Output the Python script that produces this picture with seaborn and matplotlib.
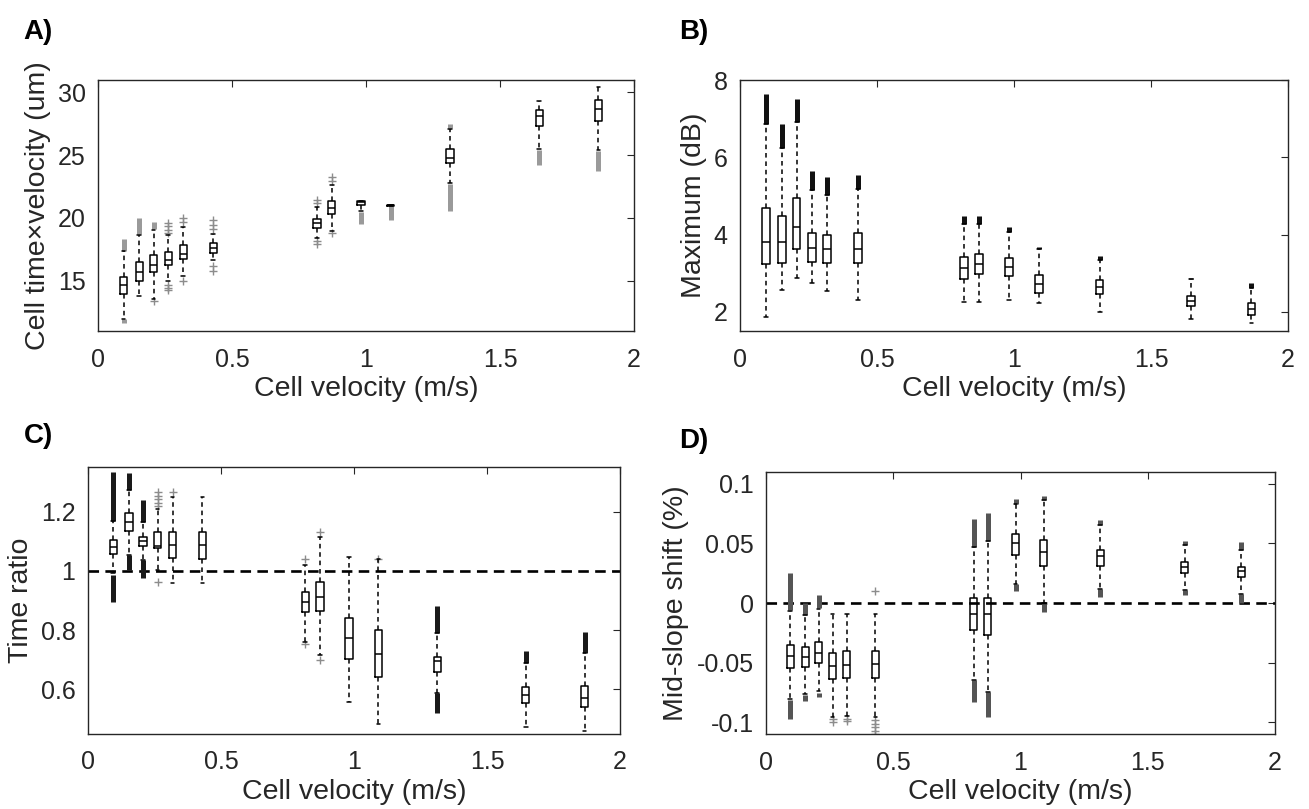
import matplotlib
matplotlib.use('Agg')
import numpy as np
import pandas as pd
import matplotlib.pyplot as plt
import seaborn as sns

# cell velocities (m/s), shared by all four panels
velocity = [0.095, 0.154, 0.207, 0.262, 0.318, 0.430, 0.817, 0.872, 0.981, 1.092, 1.313, 1.646, 1.867]

# A) cell time x velocity (um): whisker low, q1, median, q3, whisker high
a_lo  = [11.97, 13.77, 13.56, 15.02, 15.36, 16.64, 18.42, 18.94, 20.53, 20.94, 22.79, 25.52, 25.39]
a_q1  = [13.96, 14.96, 15.68, 16.27, 16.75, 17.22, 19.21, 20.35, 21.01, 20.97, 24.38, 27.35, 27.75]
a_med = [14.70, 15.71, 16.29, 16.69, 17.14, 17.57, 19.61, 20.83, 21.30, 21.00, 24.78, 28.09, 28.70]
a_q3  = [15.31, 16.51, 17.09, 17.27, 17.83, 17.99, 19.95, 21.33, 21.33, 21.00, 25.50, 28.57, 29.42]
a_hi  = [17.35, 18.68, 19.08, 18.62, 19.26, 18.70, 20.88, 22.60, 21.35, 21.00, 27.11, 29.36, 30.43]
# dense outlier runs (box index, from, to) and single outliers (box index, value)
a_runs = [(0, 17.40, 18.30), (0, 11.60, 11.95), (1, 18.70, 20.00), (2, 19.10, 19.65),
          (8, 19.55, 20.50), (9, 19.85, 20.92), (10, 20.55, 22.70), (10, 27.15, 27.50),
          (11, 24.25, 25.45), (12, 23.72, 25.30)]
a_pts = [(2, 13.40), (3, 19.61), (3, 19.34), (3, 19.08), (3, 18.81), (3, 14.70), (3, 14.44),
         (3, 14.25), (4, 20.00), (4, 19.69), (4, 15.02), (5, 19.82), (5, 19.48), (5, 19.13),
         (5, 16.16), (5, 15.76), (6, 21.46), (6, 21.20), (6, 18.15), (6, 17.94), (7, 23.27),
         (7, 22.92), (7, 18.81)]

# B) maximum (dB)
b_lo  = [1.87, 2.58, 2.89, 2.74, 2.55, 2.30, 2.26, 2.26, 2.30, 2.24, 2.00, 1.83, 1.72]
b_q1  = [3.24, 3.27, 3.63, 3.30, 3.27, 3.26, 2.86, 2.98, 2.93, 2.49, 2.46, 2.15, 1.93]
b_med = [3.82, 3.82, 4.19, 3.66, 3.63, 3.63, 3.14, 3.24, 3.17, 2.72, 2.65, 2.29, 2.08]
b_q3  = [4.69, 4.47, 4.96, 4.05, 3.99, 4.03, 3.43, 3.49, 3.40, 2.95, 2.82, 2.42, 2.22]
b_hi  = [6.85, 6.23, 6.92, 5.16, 5.03, 5.19, 4.28, 4.28, 4.08, 3.63, 3.34, 2.84, 2.61]
b_runs = [(0, 6.85, 7.63), (1, 6.23, 6.85), (2, 6.92, 7.50), (3, 5.16, 5.64), (4, 5.03, 5.49),
          (5, 5.19, 5.53), (6, 4.28, 4.47), (7, 4.28, 4.47), (8, 4.08, 4.21), (9, 3.63, 3.68),
          (10, 3.34, 3.45), (11, 2.84, 2.87), (12, 2.61, 2.74)]
b_pts = []

# C) time ratio
c_lo  = [0.992, 1.054, 1.037, 1.003, 0.958, 0.960, 0.761, 0.716, 0.556, 0.483, 0.586, 0.474, 0.458]
c_q1  = [1.056, 1.135, 1.084, 1.076, 1.045, 1.041, 0.862, 0.865, 0.701, 0.643, 0.659, 0.553, 0.539]
c_med = [1.080, 1.166, 1.101, 1.084, 1.088, 1.088, 0.895, 0.913, 0.774, 0.719, 0.694, 0.580, 0.570]
c_q3  = [1.104, 1.195, 1.116, 1.132, 1.132, 1.132, 0.929, 0.964, 0.840, 0.800, 0.710, 0.607, 0.612]
c_hi  = [1.169, 1.273, 1.166, 1.208, 1.251, 1.251, 1.020, 1.116, 1.046, 1.039, 0.789, 0.688, 0.722]
c_runs = [(0, 1.169, 1.335), (0, 0.896, 0.985), (1, 1.273, 1.332), (1, 1.003, 1.054),
          (2, 1.166, 1.240), (2, 0.975, 1.037), (10, 0.789, 0.882), (10, 0.519, 0.586),
          (11, 0.688, 0.730), (12, 0.722, 0.793)]
c_pts = [(3, 1.266), (3, 1.253), (3, 1.242), (3, 1.230), (3, 1.219), (3, 0.963), (4, 1.266),
         (6, 1.040), (6, 0.752), (7, 1.133), (7, 0.700), (9, 1.040)]

# D) mid-slope shift (%)
d_lo  = [-0.080, -0.076, -0.074, -0.0959, -0.0948, -0.0954, -0.0647, -0.0745, 0.0156, 0.0, 0.0115, 0.0106, 0.0079]
d_q1  = [-0.0541, -0.0536, -0.0502, -0.0639, -0.0628, -0.0625, -0.023, -0.027, 0.0405, 0.0307, 0.0313, 0.0251, 0.0218]
d_med = [-0.0443, -0.0452, -0.0418, -0.0527, -0.0516, -0.0513, -0.009, -0.0089, 0.0505, 0.0427, 0.0393, 0.0301, 0.0265]
d_q3  = [-0.0348, -0.0368, -0.0326, -0.0415, -0.0404, -0.0400, 0.004, 0.0045, 0.0581, 0.0525, 0.0447, 0.0343, 0.0301]
d_hi  = [-0.007, -0.0103, -0.0047, -0.0089, -0.0089, -0.0095, 0.0469, 0.0519, 0.0832, 0.0865, 0.065, 0.0483, 0.0447]
d_runs = [(0, -0.006, 0.025), (0, -0.081, -0.097), (1, -0.010, 0.0), (1, -0.077, -0.082),
          (2, -0.004, 0.007), (2, -0.075, -0.079), (6, 0.0469, 0.0706), (6, -0.0647, -0.0828),
          (7, 0.0519, 0.0753), (7, -0.0745, -0.0954), (8, 0.0832, 0.0874), (8, 0.010, 0.0156),
          (9, 0.0865, 0.0895), (9, -0.0075, -0.0005), (10, 0.065, 0.0692), (10, 0.005, 0.0115),
          (11, 0.0483, 0.0516), (11, 0.0064, 0.0106), (12, 0.0447, 0.0511), (12, -0.0003, 0.0079)]
d_pts = [(3, -0.097), (3, -0.100), (4, -0.097), (4, -0.099), (5, 0.010), (5, -0.098),
         (5, -0.101), (5, -0.104), (5, -0.107), (5, -0.110)]

sns.set_theme(style='white')
plt.rcParams['font.family'] = ['Liberation Sans', 'DejaVu Sans']
plt.rcParams['axes.unicode_minus'] = False

TICK = 18
LAB = 20.5
INK = '#262626'


def summary_frame(lo, q1, med, q3, hi):
    rows = []
    for v, *vals in zip(velocity, lo, q1, med, q3, hi):
        for val in vals:
            rows.append({'v': v, 'val': val})
    return pd.DataFrame(rows)


def panel(ax, stats, runs, pts, run_color, ylim, yticks, yticklabels, ylabel, refline=None):
    df = summary_frame(*stats)
    if refline is not None:
        ax.axhline(refline, color='black', lw=1.9, ls=(0, (4, 2.4)), zorder=1)
    # five summary values per box -> whis=(0, 100) puts whiskers at the listed ends
    sns.boxplot(data=df, x='v', y='val', orient='x', native_scale=True, whis=(0, 100),
                width=0.52, fill=False, color='black', linewidth=1.1, showfliers=False,
                whiskerprops={'linestyle': (0, (3, 2.5))},
                medianprops={'color': 'black'}, ax=ax, zorder=3)
    for i, lo, hi in runs:
        ax.vlines(velocity[i], min(lo, hi), max(lo, hi), colors=run_color, lw=3.6, zorder=2)
    if pts:
        px = [velocity[i] for i, _ in pts]
        py = [v for _, v in pts]
        sns.scatterplot(x=px, y=py, marker='+', color='#8c8c8c', s=36, linewidth=1, ax=ax, zorder=2)
    ax.set_xlim(0, 2)
    ax.set_xticks([0, 0.5, 1, 1.5, 2])
    ax.set_xticklabels(['0', '0.5', '1', '1.5', '2'])
    ax.set_ylim(*ylim)
    ax.set_yticks(yticks)
    ax.set_yticklabels(yticklabels)
    ax.set_xlabel('Cell velocity (m/s)', fontsize=LAB, color=INK, labelpad=3)
    ax.set_ylabel(ylabel, fontsize=LAB, color=INK, labelpad=5)
    ax.tick_params(direction='in', top=True, right=True, length=5, width=0.8,
                   labelsize=TICK, color=INK, labelcolor=INK)
    ax.tick_params(axis='x', pad=12)
    ax.tick_params(axis='y', pad=9)
    for s in ax.spines.values():
        s.set_visible(True)
        s.set_color(INK)
        s.set_linewidth(1.0)


fig = plt.figure(figsize=(13.09, 8.09), dpi=100)
axA = fig.add_axes([0.0749, 0.5909, 0.4095, 0.3103])
axB = fig.add_axes([0.5653, 0.5905, 0.4186, 0.3106])
axC = fig.add_axes([0.0672, 0.0931, 0.4064, 0.3293])
axD = fig.add_axes([0.5852, 0.0923, 0.3889, 0.3246])

panel(axA, (a_lo, a_q1, a_med, a_q3, a_hi), a_runs, a_pts, '#9a9a9a',
      (11, 31), [15, 20, 25, 30], ['15', '20', '25', '30'], 'Cell time\u00d7velocity (um)')
panel(axB, (b_lo, b_q1, b_med, b_q3, b_hi), b_runs, b_pts, '#111111',
      (1.5, 8), [2, 4, 6, 8], ['2', '4', '6', '8'], 'Maximum (dB)')
panel(axC, (c_lo, c_q1, c_med, c_q3, c_hi), c_runs, c_pts, '#1a1a1a',
      (0.45, 1.35), [0.6, 0.8, 1.0, 1.2], ['0.6', '0.8', '1', '1.2'], 'Time ratio', refline=1.0)
panel(axD, (d_lo, d_q1, d_med, d_q3, d_hi), d_runs, d_pts, '#555555',
      (-0.11, 0.11), [-0.1, -0.05, 0, 0.05, 0.1], ['-0.1', '-0.05', '0', '0.05', '0.1'],
      'Mid-slope shift (%)', refline=0.0)

for lab, x, y in [('A)', 0.018, 0.960), ('B)', 0.519, 0.960), ('C)', 0.018, 0.461), ('D)', 0.519, 0.455)]:
    fig.text(x, y, lab, fontsize=20, fontweight='bold', va='center', ha='left', color='black')

fig.savefig('out.png', dpi=100)
